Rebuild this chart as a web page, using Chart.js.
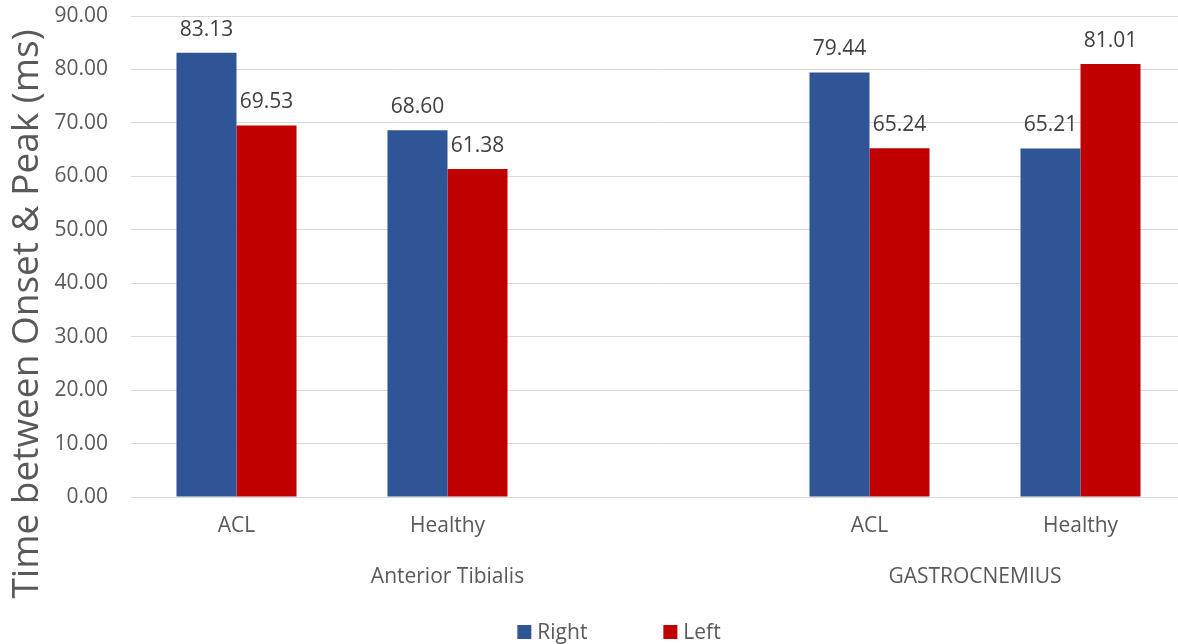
<!DOCTYPE html>
<html>
<head>
<meta charset="utf-8">
<script src="https://cdn.jsdelivr.net/npm/chart.js@4/dist/chart.umd.min.js"></script>
<style>
  html, body { margin: 0; padding: 0; background: #ffffff; overflow: hidden; }
  #wrap { width: 1186px; height: 644px; }
</style>
</head>
<body>
<div id="wrap"><canvas id="c" width="1186" height="644"></canvas></div>
<script>
// Categories along the x axis (blank slot separates the two muscles)
const categories = ['ACL', 'Healthy', '', 'ACL', 'Healthy'];
// Outer grouping of the categories: name and the first/last category index it covers
const groupNames = ['Anterior Tibialis', 'GASTROCNEMIUS'];
const groupSpans = [[0, 2], [3, 4]];
// Series values (ms)
const rightValues = [83.13, 68.60, null, 79.44, 65.21];
const leftValues  = [69.53, 61.38, null, 65.24, 81.01];
const seriesNames = ['Right', 'Left'];
// Y axis range
const yMin = 0, yMax = 90, yStep = 10;
const yTitle = 'Time between Onset & Peak (ms)';

const FONT = '"Open Sans", "Liberation Sans", sans-serif';
const BLUE = '#2F5597';
const RED = '#C00000';

// Value labels above each bar
const valueLabels = {
  id: 'valueLabels',
  afterDatasetsDraw(chart) {
    const ctx = chart.ctx;
    ctx.save();
    ctx.font = '21px ' + FONT;
    ctx.fillStyle = '#404040';
    ctx.textAlign = 'center';
    ctx.textBaseline = 'alphabetic';
    chart.data.datasets.forEach((ds, di) => {
      const meta = chart.getDatasetMeta(di);
      meta.data.forEach((bar, i) => {
        const v = ds.data[i];
        if (v == null) return;
        ctx.fillText(v.toFixed(2), bar.x, bar.y - 17);
      });
    });
    ctx.restore();
  }
};

// Outer category labels, y-axis title and legend
const extras = {
  id: 'extras',
  afterDraw(chart) {
    const ctx = chart.ctx;
    const x = chart.scales.x;
    ctx.save();
    ctx.font = '21px ' + FONT;
    ctx.fillStyle = '#595959';
    ctx.textAlign = 'center';
    ctx.textBaseline = 'alphabetic';
    groupNames.forEach((name, g) => {
      const [a, b] = groupSpans[g];
      const cx = (x.getPixelForValue(a) + x.getPixelForValue(b)) / 2;
      ctx.fillText(name, cx, 583);
    });

    // rotated axis title
    ctx.save();
    ctx.translate(38, 314);
    ctx.rotate(-Math.PI / 2);
    ctx.font = '37px ' + FONT;
    ctx.fillStyle = '#595959';
    ctx.textAlign = 'center';
    ctx.fillText(yTitle, 0, 0);
    ctx.restore();

    // legend
    ctx.font = '21px ' + FONT;
    ctx.textAlign = 'left';
    const colors = [BLUE, RED];
    const box = 14, gapBoxText = 6, gapItems = 76;
    const widths = seriesNames.map(n => box + gapBoxText + ctx.measureText(n).width);
    const total = widths.reduce((s, w) => s + w, 0) + gapItems * (widths.length - 1);
    let lx = 619 - total / 2;
    seriesNames.forEach((n, i) => {
      ctx.fillStyle = colors[i];
      ctx.fillRect(lx, 625, box, box);
      ctx.fillStyle = '#595959';
      ctx.fillText(n, lx + box + gapBoxText, 639);
      lx += widths[i] + gapItems;
    });
    ctx.restore();
  }
};

new Chart(document.getElementById('c'), {
  type: 'bar',
  data: {
    labels: categories,
    datasets: [
      { label: seriesNames[0], data: rightValues, backgroundColor: BLUE, borderWidth: 0 },
      { label: seriesNames[1], data: leftValues, backgroundColor: RED, borderWidth: 0 }
    ]
  },
  options: {
    responsive: false,
    animation: false,
    maintainAspectRatio: false,
    layout: { padding: { left: 0, right: 0, top: 16, bottom: 107 } },
    datasets: { bar: { categoryPercentage: 0.569, barPercentage: 1.0 } },
    plugins: {
      legend: { display: false },
      tooltip: { enabled: false }
    },
    scales: {
      x: {
        grid: { display: false, drawTicks: false },
        border: { display: false },
        ticks: {
          font: { family: FONT, size: 21 },
          color: '#595959',
          padding: 16,
          maxRotation: 0,
          autoSkip: false
        },
        afterFit(scale) { scale.height = 40; scale.paddingLeft = 0; scale.paddingRight = 0; }
      },
      y: {
        min: yMin,
        max: yMax,
        grid: { color: '#D9D9D9', lineWidth: 1, drawTicks: false },
        border: { display: false },
        ticks: {
          stepSize: yStep,
          font: { family: FONT, size: 21 },
          color: '#595959',
          padding: 23,
          callback: v => Number(v).toFixed(2)
        },
        afterFit(scale) { scale.width = 131; scale.paddingTop = 0; scale.paddingBottom = 0; }
      }
    }
  },
  plugins: [valueLabels, extras]
});
</script>
</body>
</html>
